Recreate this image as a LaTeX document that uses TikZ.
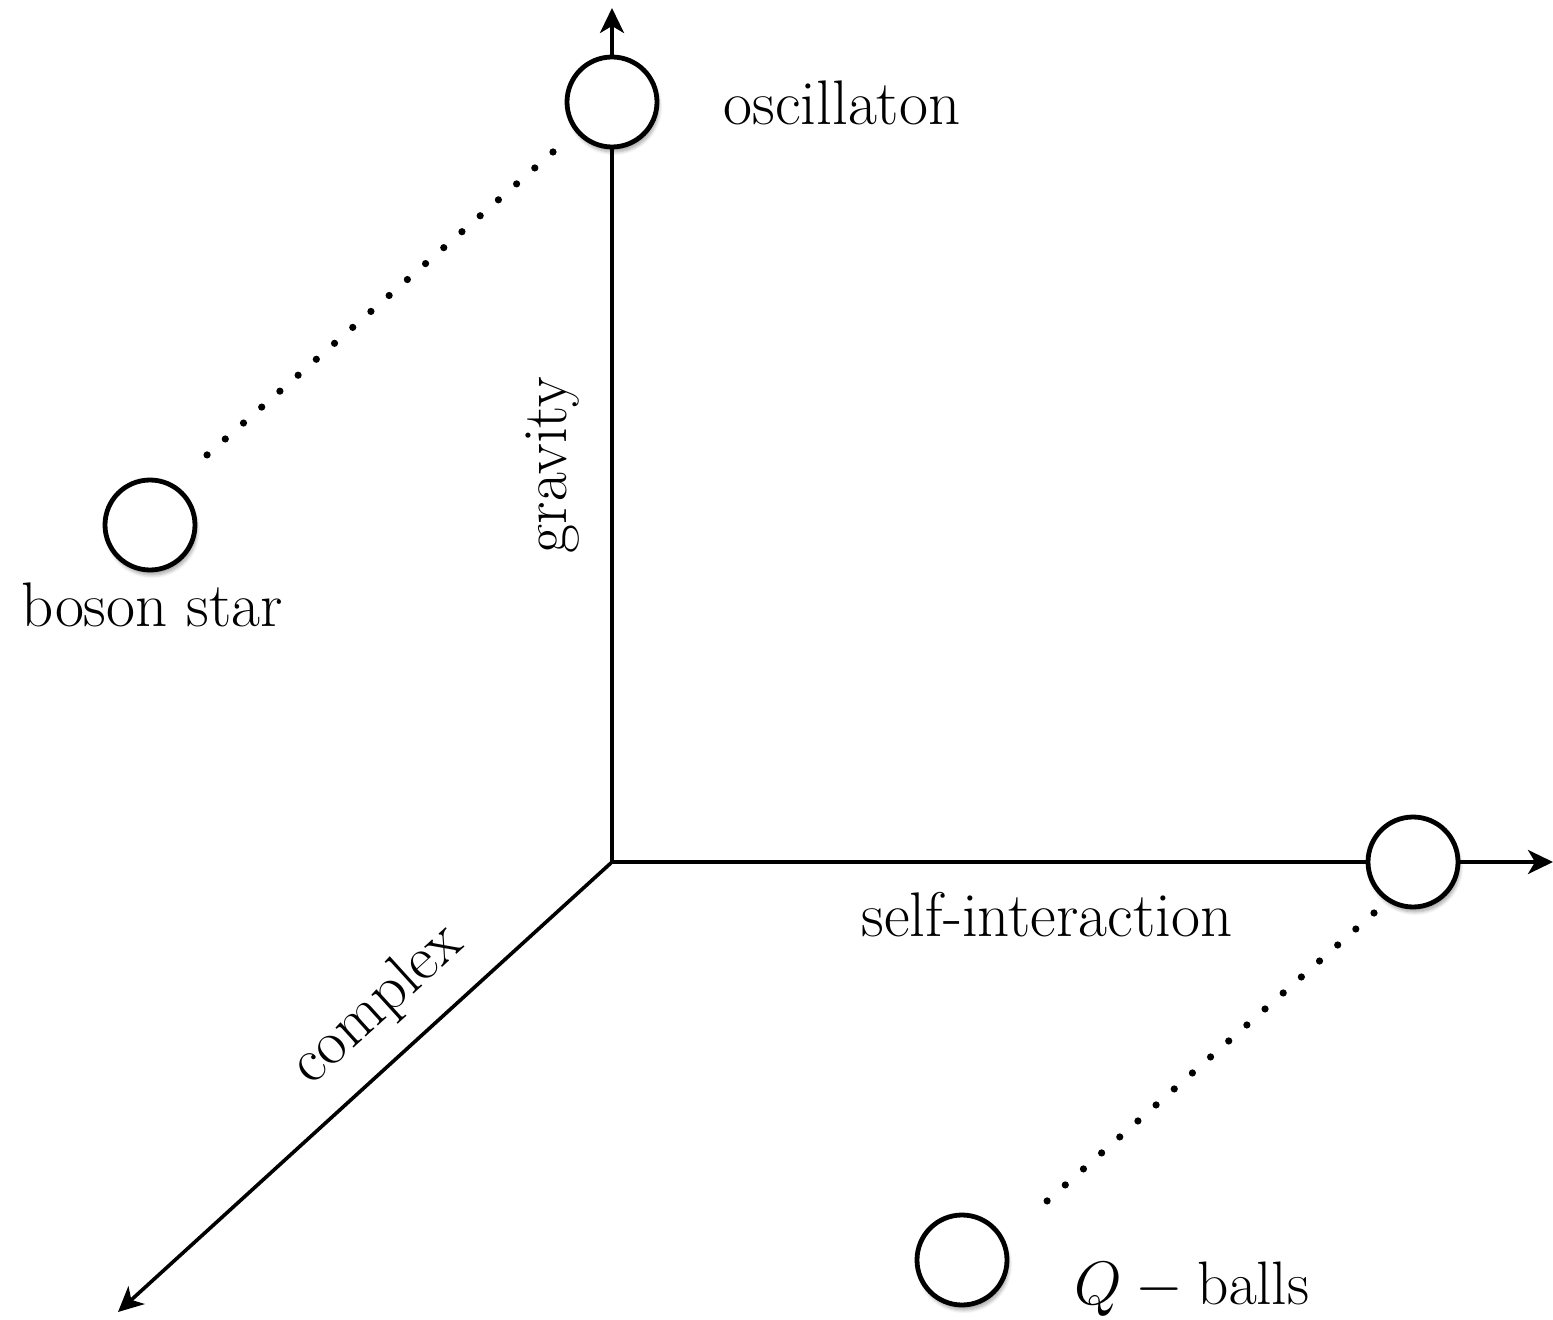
\RequirePackage{fix-cm}
\documentclass[tikz,border=0pt]{standalone}
\usetikzlibrary{arrows.meta,shadows.blur}
\begin{document}
\begin{tikzpicture}[x=0.5pt,y=-0.5pt,
  axis/.style={line width=1.8pt,-{Stealth[length=12.5pt,width=12pt,inset=3.5pt]}},
  ball/.style={circle,draw,line width=2.4pt,fill=white,minimum size=45pt,inner sep=0pt,
    blur shadow={shadow xshift=1pt,shadow yshift=-2.5pt,shadow blur steps=6,shadow opacity=35}},
  dotline/.style={line width=3.6pt,line cap=round,dash pattern=on 0pt off 12.1pt},
  lab/.style={font=\fontsize{31.5}{38}\selectfont,inner sep=0pt}]
\useasboundingbox (0,0) rectangle (1553,1320);
\coordinate (O) at (612,862);
\coordinate (ytip) at (612,8);
\coordinate (xtip) at (1553,862);
\coordinate (ztip) at (118,1312);
\draw[axis] (O) -- (ytip);
\draw[axis] (O) -- (xtip);
\draw[axis] (O) -- (ztip);
\node[ball] (osc) at (612,102) {};
\node[ball] (si) at (1413,862) {};
\node[ball] (qb) at (962,1260) {};
\node[ball] (bs) at (150,525) {};
\coordinate (d1a) at (553,152);
\coordinate (d1b) at (207,455);
\coordinate (d2a) at (1374,913);
\coordinate (d2b) at (1030,1216);
\draw[dotline] (d1a) -- (d1b);
\draw[dotline] (d2a) -- (d2b);
\node[lab] (losc) at (842,103) {oscillaton};
\node[lab] (lbs) at (152,605) {boson star};
\node[lab,rotate=90] (lgr) at (553,465) {gravity};
\node[lab] (lsi) at (1047,915) {self-interaction};
\node[lab,rotate=42.3] (lco) at (378,1005) {complex};
\node[lab,font=\fontsize{30.7}{37}\selectfont] (lqb) at (1192,1289) {$Q-\mathrm{balls}$};
\end{tikzpicture}
\end{document}
